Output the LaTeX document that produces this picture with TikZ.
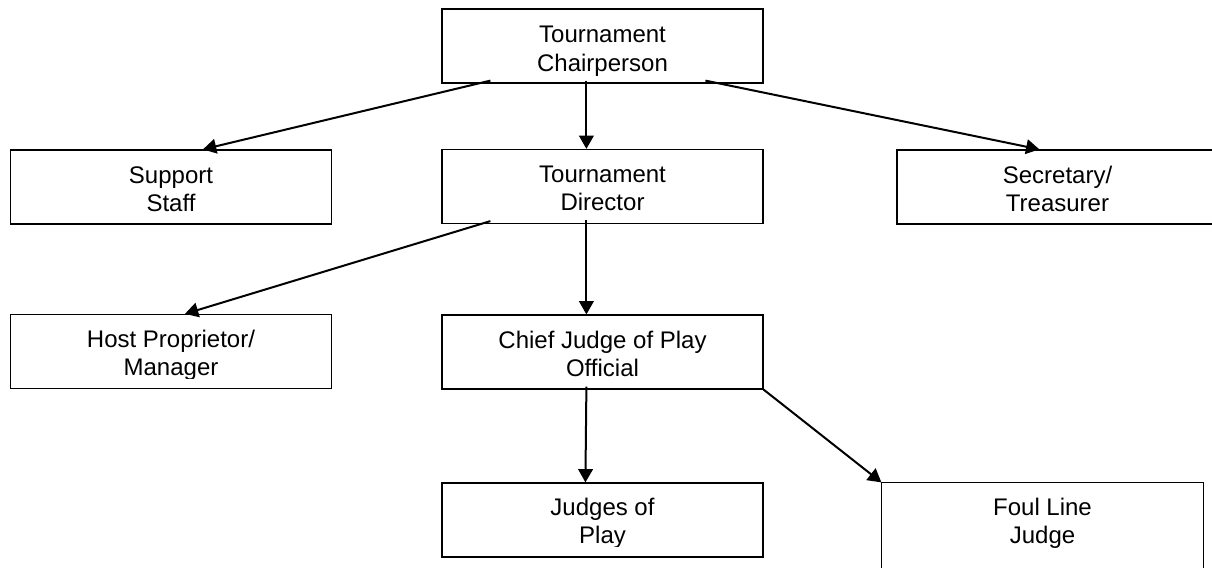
\documentclass[tikz,border=0pt]{standalone}
\usepackage{fontspec}
\setmainfont{Liberation Sans}
\usetikzlibrary{calc, arrows.meta}

\begin{document}
\begin{tikzpicture}[
        x=0.75pt, y=-0.75pt,
        box/.style={draw, line width=0.9pt, minimum width=240.75pt, minimum height=55.5pt,
            inner sep=0pt, align=center, font=\fontsize{18}{21}\selectfont,
            text height=36pt, text depth=0pt},
        conn/.style={line width=1.5pt, -{Triangle[length=10pt, width=11pt]}}
    ]
        \useasboundingbox (0,0) rectangle (1212,567);

        % Boxes, one row at a time
        \node[box, text height=37.5pt] (chair) at (602.5, 46) {Tournament\\Chairperson};

        \node[box] (support) at (171, 187) {Support\\Staff};
        \node[box] (director) at (602.5, 186.5) {Tournament\\Director};
        \node[box] (secretary) at (1057.5, 187) {Secretary/\\Treasurer};

        \node[box] (host) at (171, 351.5) {Host Proprietor/\\Manager};
        \node[box] (chief) at (602.5, 352) {Chief Judge of Play\\Official};

        \node[box, text height=34.5pt] (judges) at (602.5, 520) {Judges of\\Play};
        \node[box, text height=34.5pt, draw=none] (foul) at (1042.5, 520) {Foul Line\\Judge};
        % Foul line box runs off the page at the bottom
        \draw[line width=0.9pt] ($(foul.south west)+(0,30)$) -- (foul.north west)
            -- (foul.north east) -- ($(foul.south east)+(0,30)$);

        % Text cut off at the bottom of these two boxes
        \fill[white] ($(host.south west)+(2,-2)$) rectangle ($(host.south east)+(-2,-10)$);
        \fill[white] ($(judges.south west)+(2,-2)$) rectangle ($(judges.south east)+(-2,-11)$);

        % Connectors
        \draw[conn] ($(chair.south west)+(49,-3)$) -- ($(support.north west)+(193,0)$);
        \draw[conn] ($(chair.south west)+(145,-3)$) -- ($(director.north west)+(145,0)$);
        \draw[conn] ($(chair.south west)+(264,-3)$) -- ($(secretary.north west)+(143,0)$);

        \draw[conn] ($(director.south west)+(49,-3)$) -- ($(host.north west)+(175,0)$);
        \draw[conn] ($(director.south west)+(145,-4)$) -- ($(chief.north west)+(145,0)$);

        \draw[conn] ($(chief.south west)+(145,-3)$) -- ($(judges.north west)+(144,0)$);
        \draw[conn] (chief.south east) -- (foul.north west);
    \end{tikzpicture}
\end{document}
